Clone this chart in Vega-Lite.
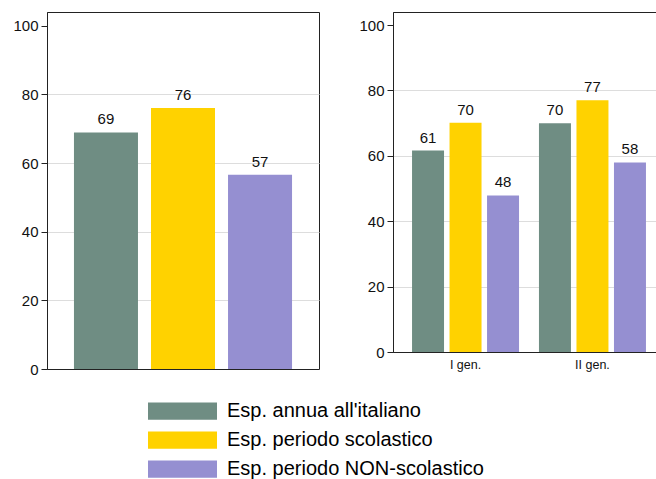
{
  "$schema": "https://vega.github.io/schema/vega-lite/v6.json",
  "padding": {"left": 12, "top": 11, "right": 0, "bottom": 0},
  "background": "white",
  "config": {
    "font": "Liberation Sans",
    "view": {"stroke": "#222", "strokeWidth": 1},
    "axis": {
      "labelFont": "Liberation Sans",
      "labelColor": "#111",
      "domainColor": "#222",
      "tickColor": "#222",
      "titleFont": "Liberation Sans"
    },
    "legend": {
      "orient": "none",
      "legendX": 101,
      "legendY": 389,
      "direction": "vertical",
      "title": null,
      "symbolType": "M-1,-0.25H1V0.25H-1Z",
      "symbolSize": 4761,
      "symbolStrokeWidth": 0,
      "clipHeight": 20,
      "rowPadding": 9,
      "labelFontSize": 20,
      "labelFont": "Liberation Sans",
      "labelColor": "#000",
      "labelOffset": 10,
      "labelLimit": 500
    }
  },
  "datasets": {
    "tot": [
      {"cat": "Esp. annua all'italiano", "value": 68.9, "label": "69"},
      {"cat": "Esp. periodo scolastico", "value": 76.0, "label": "76"},
      {"cat": "Esp. periodo NON-scolastico", "value": 56.6, "label": "57"}
    ],
    "gen": [
      {"group": "I gen.", "cat": "Esp. annua all'italiano", "value": 61.6, "label": "61"},
      {"group": "I gen.", "cat": "Esp. periodo scolastico", "value": 70.1, "label": "70"},
      {"group": "I gen.", "cat": "Esp. periodo NON-scolastico", "value": 47.9, "label": "48"},
      {"group": "II gen.", "cat": "Esp. annua all'italiano", "value": 70.0, "label": "70"},
      {"group": "II gen.", "cat": "Esp. periodo scolastico", "value": 77.0, "label": "77"},
      {"group": "II gen.", "cat": "Esp. periodo NON-scolastico", "value": 58.0, "label": "58"}
    ]
  },
  "spacing": 38,
  "resolve": {"scale": {"x": "independent", "y": "independent", "color": "shared"}},
  "hconcat": [
    {
      "width": 272,
      "height": 357,
      "data": {"name": "tot"},
      "encoding": {
        "x": {
          "field": "cat", "type": "nominal", "axis": null,
          "sort": ["Esp. annua all'italiano", "Esp. periodo scolastico", "Esp. periodo NON-scolastico"],
          "scale": {"paddingInner": 0.169, "paddingOuter": 0.35}
        },
        "y": {
          "field": "value", "type": "quantitative",
          "scale": {"domain": [0, 104], "nice": false},
          "axis": {
            "title": null, "values": [0, 20, 40, 60, 80, 100],
            "labelFontSize": 15, "tickSize": 6, "labelPadding": 3,
            "grid": true,
            "gridColor": {"condition": {"test": "datum.value === 0 || datum.value === 100", "value": "transparent"}, "value": "#dddddd"}
          }
        }
      },
      "layer": [
        {
          "mark": {"type": "bar"},
          "encoding": {
            "color": {
              "field": "cat", "type": "nominal",
              "scale": {
                "domain": ["Esp. annua all'italiano", "Esp. periodo scolastico", "Esp. periodo NON-scolastico"],
                "range": ["#6f8d83", "#ffd200", "#958fd1"]
              }
            }
          }
        },
        {
          "mark": {"type": "text", "baseline": "alphabetic", "dy": -8, "fontSize": 15, "color": "#111"},
          "encoding": {"text": {"field": "label"}}
        }
      ]
    },
    {
      "width": 272,
      "height": 340,
      "data": {"name": "gen"},
      "encoding": {
        "x": {
          "field": "group", "type": "nominal",
          "scale": {"paddingInner": 0.157, "paddingOuter": 0.15},
          "axis": {"title": null, "labelAngle": 0, "ticks": false, "labelFontSize": 12.5, "labelPadding": 6}
        },
        "xOffset": {
          "field": "cat", "type": "nominal",
          "sort": ["Esp. annua all'italiano", "Esp. periodo scolastico", "Esp. periodo NON-scolastico"],
          "scale": {"paddingInner": 0.147, "paddingOuter": 0}
        },
        "y": {
          "field": "value", "type": "quantitative",
          "scale": {"domain": [0, 104], "nice": false},
          "axis": {
            "title": null, "values": [0, 20, 40, 60, 80, 100],
            "labelFontSize": 15, "tickSize": 6, "labelPadding": 3,
            "grid": true,
            "gridColor": {"condition": {"test": "datum.value === 0 || datum.value === 100", "value": "transparent"}, "value": "#dddddd"}
          }
        }
      },
      "layer": [
        {
          "mark": {"type": "bar"},
          "encoding": {
            "color": {"field": "cat", "type": "nominal"}
          }
        },
        {
          "mark": {"type": "text", "baseline": "alphabetic", "dy": -8, "fontSize": 15, "color": "#111"},
          "encoding": {"text": {"field": "label"}}
        }
      ]
    }
  ]
}
